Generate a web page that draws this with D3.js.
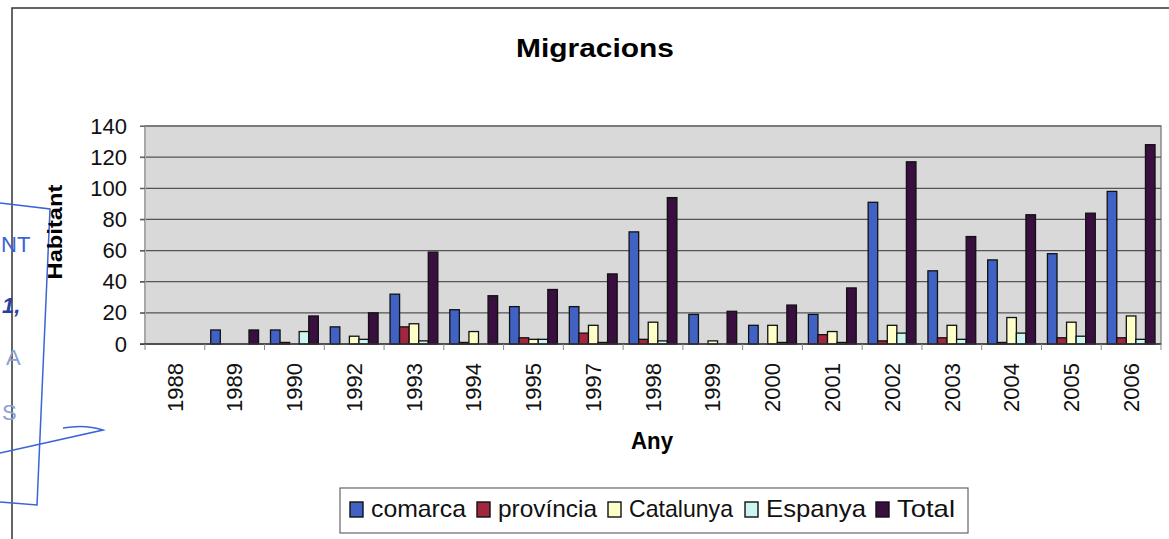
<!DOCTYPE html>
<html>
<head>
<meta charset="utf-8">
<script src="https://cdn.jsdelivr.net/npm/d3@7"></script>
<style>
  body { margin: 0; background: #fff; }
  text { font-family: "Liberation Sans", Arial, sans-serif; }
</style>
</head>
<body>
<script>
// values
var years = ['1988','1989','1990','1992','1993','1994','1995','1997','1998','1999','2000','2001','2002','2003','2004','2005','2006'];
var series = ['comarca','província','Catalunya','Espanya','Total'];
var comarca   = [0, 9, 9, 11, 32, 22, 24, 24, 72, 19, 12, 19, 91, 47, 54, 58, 98];
var provincia = [0, 0, 1, 0, 11, 1, 4, 7, 3, 0, 0, 6, 2, 4, 1, 4, 4];
var catalunya = [0, 0, 0, 5, 13, 8, 3, 12, 14, 2, 12, 8, 12, 12, 17, 14, 18];
var espanya   = [0, 0, 8, 3, 2, 0, 3, 1, 2, 0, 1, 1, 7, 3, 7, 5, 3];
var total     = [0, 9, 18, 20, 59, 31, 35, 45, 94, 21, 25, 36, 117, 69, 83, 84, 128];
var yTicks = [0, 20, 40, 60, 80, 100, 120, 140];
var colors = ['#4062c4', '#a3263f', '#ffffc8', '#ccf5f2', '#380f3e'];

var values = [comarca, provincia, catalunya, espanya, total];

var width = 1169, height = 539;
var plot = {left: 145, right: 1161, top: 126, bottom: 344};

var svg = d3.select('body').append('svg')
  .attr('width', width)
  .attr('height', height);

// outer frame of the scanned page
svg.append('path')
  .attr('d', 'M12,539 L12,8 L1169,8')
  .attr('fill', 'none')
  .attr('stroke', '#333')
  .attr('stroke-width', 1.5);

// blue stamp scribbles on the left edge
var stamp = svg.append('g').attr('stroke', '#3a64d8').attr('fill', 'none').attr('stroke-width', 1.5);
stamp.append('path').attr('d', 'M0,203 L50,209 L37,505 L0,502');
stamp.append('path').attr('d', 'M0,453 L103,430 Q85,424 63,428');
var stampText = svg.append('g').attr('fill', '#3a64d8').attr('font-size', 22);
stampText.append('text').attr('x', 1).attr('y', 252).text('NT');
stampText.append('text').attr('x', 2).attr('y', 313).attr('font-weight', 'bold').attr('font-style', 'italic').attr('fill', '#2a3fa8').text('1,');
stampText.append('text').attr('x', 6).attr('y', 365).attr('fill', '#8aa0d8').text('A');
stampText.append('text').attr('x', 2).attr('y', 420).attr('fill', '#8aa0d8').text('S');

var x0 = d3.scaleBand()
  .domain(years)
  .range([plot.left, plot.right]);

var barW = x0.step() / 6.25;
var x1 = d3.scaleBand()
  .domain(series)
  .range([0, barW * series.length]);
var groupPad = (x0.step() - barW * series.length) / 2;

var y = d3.scaleLinear()
  .domain([0, 140])
  .range([plot.bottom, plot.top]);

// plot background
svg.append('rect')
  .attr('x', plot.left)
  .attr('y', plot.top)
  .attr('width', plot.right - plot.left)
  .attr('height', plot.bottom - plot.top)
  .attr('fill', '#d9d9d9')
  .attr('stroke', '#8a8a8a')
  .attr('stroke-width', 1.5);

// gridlines + left ticks
svg.append('g')
  .selectAll('line')
  .data(yTicks.slice(1))
  .enter().append('line')
  .attr('x1', plot.left - 5)
  .attr('x2', plot.right)
  .attr('y1', function(d) { return y(d); })
  .attr('y2', function(d) { return y(d); })
  .attr('stroke', '#555')
  .attr('stroke-width', 1.2);

var yAxis = svg.append('g')
  .attr('transform', 'translate(' + plot.left + ',0)')
  .call(d3.axisLeft(y).tickValues(yTicks).tickSize(5).tickPadding(13));
yAxis.select('.domain').attr('stroke', '#aaa');
yAxis.selectAll('.tick line').attr('stroke', '#666');
yAxis.selectAll('text')
  .attr('font-size', 22)
  .attr('fill', '#111')
  .attr('font-family', '"Liberation Sans", Arial, sans-serif');

// bars
var groups = svg.append('g')
  .selectAll('g')
  .data(years)
  .enter().append('g')
  .attr('transform', function(d) { return 'translate(' + (x0(d) + groupPad) + ',0)'; });

groups.selectAll('rect')
  .data(function(d, i) {
    return series.map(function(s, j) { return {key: s, value: values[j][i], c: colors[j]}; });
  })
  .enter().append('rect')
  .attr('x', function(d) { return x1(d.key); })
  .attr('y', function(d) { return y(d.value); })
  .attr('width', x1.bandwidth())
  .attr('height', function(d) { return y(0) - y(d.value); })
  .attr('fill', function(d) { return d.c; })
  .attr('stroke', '#111')
  .attr('stroke-width', function(d) { return d.value > 0 ? 1.3 : 0; });

// category axis
svg.append('line')
  .attr('x1', plot.left - 5).attr('x2', plot.right)
  .attr('y1', plot.bottom).attr('y2', plot.bottom)
  .attr('stroke', '#333').attr('stroke-width', 1.5);

svg.append('g')
  .selectAll('line')
  .data(years.concat(['end']))
  .enter().append('line')
  .attr('x1', function(d, i) { return plot.left + i * x0.step(); })
  .attr('x2', function(d, i) { return plot.left + i * x0.step(); })
  .attr('y1', plot.bottom)
  .attr('y2', plot.bottom + 6)
  .attr('stroke', '#888');

svg.append('g')
  .selectAll('text')
  .data(years)
  .enter().append('text')
  .attr('transform', function(d) { return 'translate(' + (x0(d) + x0.bandwidth() / 2) + ',363) rotate(-90)'; })
  .attr('text-anchor', 'end')
  .attr('dy', '0.35em')
  .attr('font-size', 22)
  .attr('fill', '#111')
  .text(function(d) { return d; });

// titles
svg.append('text')
  .attr('x', 516).attr('y', 57)
  .attr('font-size', 26).attr('font-weight', 'bold')
  .attr('textLength', 158).attr('lengthAdjust', 'spacingAndGlyphs')
  .text('Migracions');

svg.append('text')
  .attr('transform', 'translate(62,232) rotate(-90)')
  .attr('text-anchor', 'middle')
  .attr('font-size', 21).attr('font-weight', 'bold')
  .attr('textLength', 95).attr('lengthAdjust', 'spacingAndGlyphs')
  .text('Habitant');

svg.append('text')
  .attr('x', 631).attr('y', 449)
  .attr('font-size', 23).attr('font-weight', 'bold')
  .attr('textLength', 42).attr('lengthAdjust', 'spacingAndGlyphs')
  .text('Any');

// legend
var legend = svg.append('g');
legend.append('rect')
  .attr('x', 340).attr('y', 488)
  .attr('width', 628).attr('height', 45)
  .attr('fill', '#fff')
  .attr('stroke', '#666').attr('stroke-width', 1.2);

var legendX = [350, 477, 608, 745, 876];
var legendW = [95, 99, 104, 100, 58];
var item = legend.selectAll('g.item')
  .data(series)
  .enter().append('g')
  .attr('class', 'item')
  .attr('transform', function(d, i) { return 'translate(' + legendX[i] + ',502)'; });

item.append('rect')
  .attr('width', 13).attr('height', 15)
  .attr('fill', function(d, i) { return colors[i]; })
  .attr('stroke', '#111').attr('stroke-width', 1.4);

item.append('text')
  .attr('x', 21).attr('y', 15)
  .attr('font-size', 24)
  .attr('fill', '#111')
  .attr('textLength', function(d, i) { return legendW[i]; })
  .attr('lengthAdjust', 'spacingAndGlyphs')
  .text(function(d) { return d; });
</script>
</body>
</html>
